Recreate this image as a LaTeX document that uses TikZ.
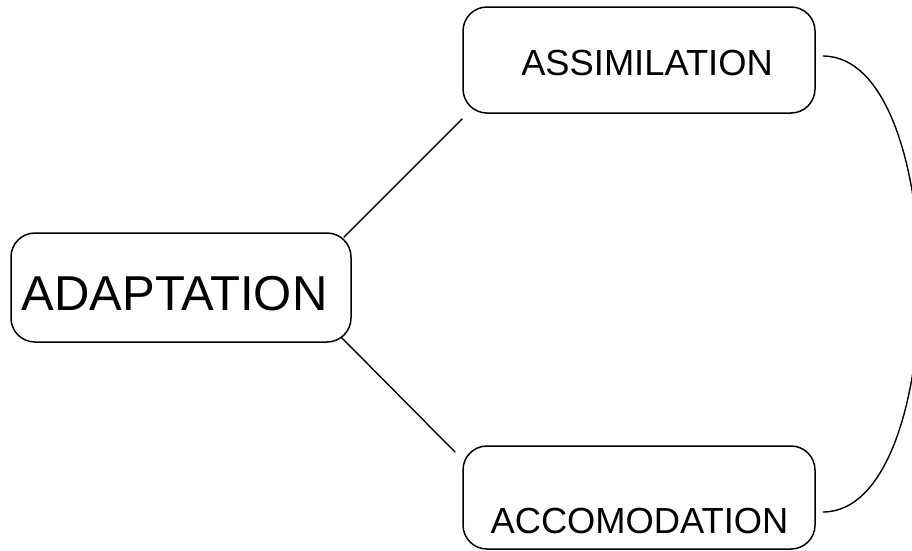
\documentclass[tikz,border=0pt]{standalone}
\usepackage{fontspec}
\setmainfont{Liberation Sans}
\usetikzlibrary{calc}
\begin{document}
\begin{tikzpicture}[x=1pt,y=-1pt,
  box/.style={draw, line width=1.5pt, rounded corners=24pt, inner sep=0pt},
  conn/.style={line width=1.4pt},
  bigtxt/.style={inner sep=0pt, anchor=base, font=\fontsize{49}{52}\selectfont},
  smalltxt/.style={inner sep=0pt, anchor=base, font=\fontsize{36.3}{39}\selectfont}]
\useasboundingbox (0,0) rectangle (912,550);
\clip (0,0) rectangle (912,550);
\node[box, minimum width=340pt, minimum height=109pt] (adapt) at (181,287.5) {};
\node[box, minimum width=352pt, minimum height=106pt] (assim) at (639,60) {};
\node[box, minimum width=352pt, minimum height=103pt] (acc) at (639,497.5) {};
\node[bigtxt] (adaptt) at (174.5,310) {ADAPTATION};
\node[smalltxt] (assimt) at (647,75) {ASSIMILATION};
\node[smalltxt] (acct) at (639.5,533) {ACCOMODATION};
\draw[conn] ($(adapt.north east)+(-8,5)$) -- ($(assim.south west)+(0,5)$);
\draw[conn] ($(adapt.south east)+(-11,-6)$) -- ($(acc.north west)+(-7,7)$);
\draw[conn] ($(assim.east)+(7,-4)$) .. controls (952,56) and (952,512) .. ($(acc.east)+(7,14.5)$);
\end{tikzpicture}
\end{document}
